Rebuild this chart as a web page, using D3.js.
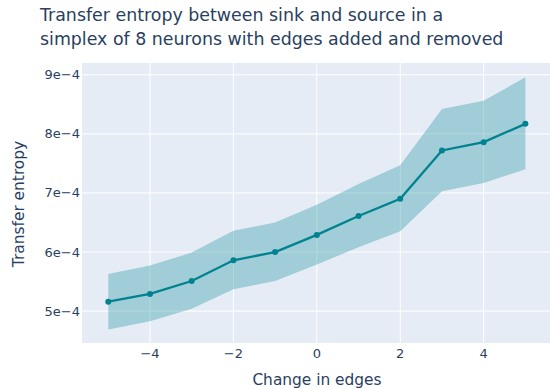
<!DOCTYPE html>
<html lang="en">
<head>
    <meta charset="UTF-8">
    <title>Transfer entropy</title>
    <script src="https://d3js.org/d3.v7.min.js"></script>
    <style>
        body { margin: 0; }
        text {
            font-family: 'DejaVu Sans', Verdana, sans-serif;
            fill: #2a3f5f;
        }
    </style>
</head>
<body>

<script>
    const edgeChange = [-5, -4, -3, -2, -1, 0, 1, 2, 3, 4, 5];
    const meanTE  = [5.16e-4, 5.29e-4, 5.51e-4, 5.86e-4, 6.00e-4, 6.29e-4, 6.61e-4, 6.90e-4, 7.72e-4, 7.86e-4, 8.17e-4];
    const upperTE = [5.63e-4, 5.77e-4, 5.99e-4, 6.36e-4, 6.50e-4, 6.80e-4, 7.15e-4, 7.47e-4, 8.42e-4, 8.56e-4, 8.96e-4];
    const lowerTE = [4.69e-4, 4.83e-4, 5.04e-4, 5.37e-4, 5.51e-4, 5.79e-4, 6.08e-4, 6.35e-4, 7.03e-4, 7.17e-4, 7.40e-4];
    const xTicks = [-4, -2, 0, 2, 4];
    const yTicks = [5e-4, 6e-4, 7e-4, 8e-4, 9e-4];
    const yTickLabels = ["5e\u22124", "6e\u22124", "7e\u22124", "8e\u22124", "9e\u22124"];

    const width  = 550;
    const height = 389;
    const plot = {left: 82, right: 550, top: 63, bottom: 343};

    const x = d3.scaleLinear().domain([-5.63, 5.59]).range([plot.left, plot.right]);
    const y = d3.scaleLinear().domain([4.46e-4, 9.2e-4]).range([plot.bottom, plot.top]);

    const svg = d3.select("body").append("svg")
                  .attr("width", width).attr("height", height);

    svg.append("rect")
       .attr("x", plot.left).attr("y", plot.top)
       .attr("width", plot.right - plot.left).attr("height", plot.bottom - plot.top)
       .attr("fill", "#E5ECF6");

    // grid
    svg.append("g").selectAll("line").data(xTicks).join("line")
       .attr("x1", d => x(d)).attr("x2", d => x(d))
       .attr("y1", plot.top).attr("y2", plot.bottom)
       .attr("stroke", "white").attr("stroke-width", 1);

    svg.append("g").selectAll("line").data(yTicks).join("line")
       .attr("x1", plot.left).attr("x2", plot.right)
       .attr("y1", d => y(d)).attr("y2", d => y(d))
       .attr("stroke", "white").attr("stroke-width", 1);

    // band
    const data = edgeChange.map((d, i) => ({x: d, m: meanTE[i], lo: lowerTE[i], hi: upperTE[i]}));

    const area = d3.area()
                   .x(d => x(d.x))
                   .y0(d => y(d.lo))
                   .y1(d => y(d.hi));

    svg.append("path").datum(data)
       .attr("d", area)
       .attr("fill", "rgba(0,131,143,0.3)");

    const line = d3.line()
                   .x(d => x(d.x))
                   .y(d => y(d.m));

    svg.append("path").datum(data)
       .attr("d", line)
       .attr("fill", "none")
       .attr("stroke", "#00838F")
       .attr("stroke-width", 2.3);

    svg.append("g").selectAll("circle").data(data).join("circle")
       .attr("cx", d => x(d.x)).attr("cy", d => y(d.m))
       .attr("r", 3)
       .attr("fill", "#00838F");

    // tick labels
    svg.append("g").selectAll("text").data(xTicks).join("text")
       .attr("x", d => x(d)).attr("y", 358)
       .attr("text-anchor", "middle")
       .style("font-size", "13px")
       .text(d => d < 0 ? "\u2212" + Math.abs(d) : d);

    svg.append("g").selectAll("text").data(yTicks).join("text")
       .attr("x", plot.left - 2).attr("y", d => y(d) + 4.5)
       .attr("text-anchor", "end")
       .style("font-size", "13px")
       .text((d, i) => yTickLabels[i]);

    // axis titles
    svg.append("text")
       .attr("x", 317).attr("y", 385)
       .attr("text-anchor", "middle")
       .style("font-size", "15.4px")
       .text("Change in edges");

    svg.append("text")
       .attr("transform", "translate(24," + 204 + ") rotate(-90)")
       .attr("text-anchor", "middle")
       .style("font-size", "15.4px")
       .text("Transfer entropy");

    // title
    const title = svg.append("text")
       .attr("x", 40).attr("y", 21)
       .style("font-size", "17.4px");
    title.append("tspan").attr("x", 40).attr("dy", 0)
         .text("Transfer entropy between sink and source in a");
    title.append("tspan").attr("x", 40).attr("dy", 24)
         .text("simplex of 8 neurons with edges added and removed");

</script>

</body>
</html>
